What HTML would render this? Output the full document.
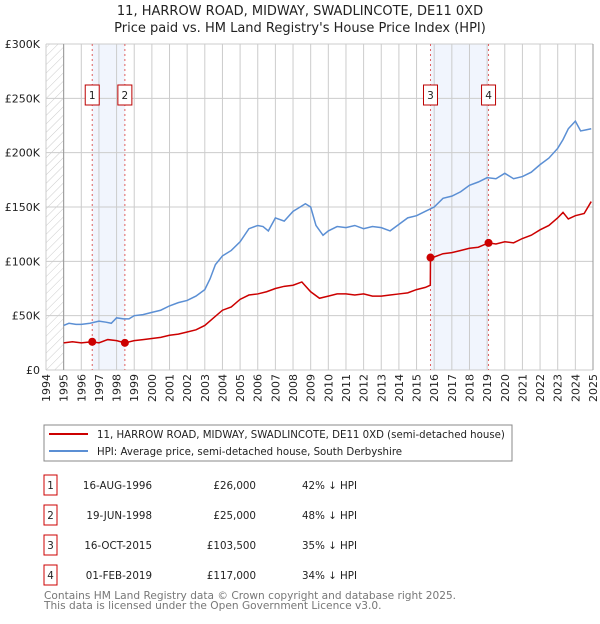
<!DOCTYPE html>
<html><head><meta charset="utf-8"><style>
body{margin:0;background:#fff;font-family:"DejaVu Sans","Liberation Sans",sans-serif;}
svg text{font-family:"DejaVu Sans","Liberation Sans",sans-serif;}
</style></head><body>
<svg id="c" width="600" height="620" xmlns="http://www.w3.org/2000/svg">
<defs><pattern id="hatch" width="6" height="6" patternUnits="userSpaceOnUse" patternTransform="rotate(45)"><line x1="0" y1="0" x2="0" y2="6" stroke="#ccc" stroke-width="1"/></pattern></defs>
<text x="300" y="15" text-anchor="middle" font-size="13" fill="#222">11, HARROW ROAD, MIDWAY, SWADLINCOTE, DE11 0XD</text>
<text x="300" y="32" text-anchor="middle" font-size="13" fill="#222">Price paid vs. HM Land Registry's House Price Index (HPI)</text>
<g id="plot"></g>
<rect x="44" y="425" width="468" height="36" fill="#fff" stroke="#888"/>
<line x1="49" y1="434" x2="88" y2="434" stroke="#cc0000" stroke-width="2"/>
<text x="97" y="438" font-size="10.2" fill="#222">11, HARROW ROAD, MIDWAY, SWADLINCOTE, DE11 0XD (semi-detached house)</text>
<line x1="49" y1="451" x2="88" y2="451" stroke="#5b8fd4" stroke-width="2"/>
<text x="97" y="455" font-size="10.2" fill="#222">HPI: Average price, semi-detached house, South Derbyshire</text>
<g id="tbl" font-size="10.3" fill="#222"></g>
<text x="44" y="599" font-size="10.6" fill="#777">Contains HM Land Registry data © Crown copyright and database right 2025.</text>
<text x="44" y="609" font-size="10.6" fill="#777">This data is licensed under the Open Government Licence v3.0.</text>
</svg>
<script>
const yTicks=[0,50,100,150,200,250,300];
const yLabels=["£0","£50K","£100K","£150K","£200K","£250K","£300K"];
const xYears=[1994,1995,1996,1997,1998,1999,2000,2001,2002,2003,2004,2005,2006,2007,2008,2009,2010,2011,2012,2013,2014,2015,2016,2017,2018,2019,2020,2021,2022,2023,2024,2025];
const hpiT=[1995,1995.3,1995.7,1996,1996.5,1997,1997.4,1997.7,1998,1998.4,1998.7,1999,1999.5,2000,2000.5,2001,2001.5,2002,2002.5,2003,2003.3,2003.6,2004,2004.5,2005,2005.5,2006,2006.3,2006.6,2007,2007.5,2008,2008.3,2008.7,2009,2009.3,2009.7,2010,2010.5,2011,2011.5,2012,2012.5,2013,2013.5,2014,2014.5,2015,2015.5,2016,2016.5,2017,2017.5,2018,2018.5,2019,2019.5,2020,2020.5,2021,2021.5,2022,2022.5,2023,2023.3,2023.6,2024,2024.3,2024.6,2024.9];
const hpiV=[41,43,42,42,43,45,44,43,48,47,47,50,51,53,55,59,62,64,68,74,84,97,105,110,118,130,133,132,128,140,137,146,149,153,150,133,124,128,132,131,133,130,132,131,128,134,140,142,146,150,158,160,164,170,173,177,176,181,176,178,182,189,195,204,212,222,229,220,221,222,223,240];
const ppT=[1995,1995.5,1996,1996.62,1997,1997.5,1998,1998.47,1999,1999.5,2000,2000.5,2001,2001.5,2002,2002.5,2003,2003.5,2004,2004.5,2005,2005.5,2006,2006.5,2007,2007.5,2008,2008.5,2009,2009.5,2010,2010.5,2011,2011.5,2012,2012.5,2013,2013.5,2014,2014.5,2015,2015.5,2015.78,2015.79,2016,2016.5,2017,2017.5,2018,2018.5,2019.08,2019.5,2020,2020.5,2021,2021.5,2022,2022.5,2023,2023.3,2023.6,2024,2024.5,2024.9];
const ppV=[25,26,25,26,25,28,27,25,27,28,29,30,32,33,35,37,41,48,55,58,65,69,70,72,75,77,78,81,72,66,68,70,70,69,70,68,68,69,70,71,74,76,78,103.5,104,107,108,110,112,113,117,116,118,117,121,124,129,133,140,145,139,142,144,155];
const saleT=[1996.62,1998.47,2015.79,2019.08];
const saleV=[26,25,103.5,117];
const saleLabels=["1","2","3","4"];
const dates=["16-AUG-1996","19-JUN-1998","16-OCT-2015","01-FEB-2019"];
const prices=["£26,000","£25,000","£103,500","£117,000"];
const pcts=["42% ↓ HPI","48% ↓ HPI","35% ↓ HPI","34% ↓ HPI"];
const X0=46,X1=593,Y0=370,Y1=44;
const sx=t=>X0+(t-1994)/31*(X1-X0);
const sy=v=>Y0-(v/300)*(Y0-Y1);
const NS="http://www.w3.org/2000/svg";
const g=document.getElementById('plot');
function mk(tag,attrs,parent){const e=document.createElementNS(NS,tag);for(const k in attrs)e.setAttribute(k,attrs[k]);(parent||g).appendChild(e);return e;}
let e;
e=mk('rect',{x:X0,y:Y1,width:sx(1995)-X0,height:Y0-Y1,fill:'url(#hatch)'});


[[0,1],[2,3]].forEach(p=>{e=mk('rect',{x:sx(saleT[p[0]]),y:Y1,width:sx(saleT[p[1]])-sx(saleT[p[0]]),height:Y0-Y1,fill:'#f1f5fd'});

});
xYears.forEach(yr=>{e=mk('line',{x1:sx(yr),x2:sx(yr),y1:Y1,y2:Y0,stroke:'#ccc','stroke-width':1});


e=mk('text',{x:0,y:0,transform:`translate(${sx(yr)+4},${Y0+4}) rotate(-90)`,'text-anchor':'end','font-size':11,fill:'#222'});
e.textContent=yr;

});
yTicks.forEach((v,i)=>{e=mk('line',{x1:X0,x2:X1,y1:sy(v),y2:sy(v),stroke:'#ccc','stroke-width':1});


e=mk('text',{x:40,y:sy(v)+4,'text-anchor':'end','font-size':11,fill:'#222'});
e.textContent=yLabels[i];

});
e=mk('line',{x1:sx(1995),x2:sx(1995),y1:Y1,y2:Y0,stroke:'#999'});


e=mk('line',{x1:X1,x2:X1,y1:Y1,y2:Y0,stroke:'#999'});


saleT.forEach(t=>{e=mk('line',{x1:sx(t),x2:sx(t),y1:Y1,y2:Y0,stroke:'#e06060','stroke-dasharray':'2,3'});

});
e=mk('polyline',{points:hpiT.map((t,i)=>sx(t)+','+sy(hpiV[i])).join(' '),fill:'none',stroke:'#5b8fd4','stroke-width':1.5});


e=mk('polyline',{points:ppT.map((t,i)=>sx(t)+','+sy(ppV[i])).join(' '),fill:'none',stroke:'#cc0000','stroke-width':1.5});


saleT.forEach((t,i)=>{e=mk('circle',{cx:sx(t),cy:sy(saleV[i]),r:4,fill:'#cc0000'});


e=mk('rect',{x:sx(t)-7,y:85,width:14,height:20,fill:'#fff',stroke:'#bb0000'});


e=mk('text',{x:sx(t),y:99,'text-anchor':'middle','font-size':10.5,fill:'#222'});
e.textContent=saleLabels[i];

});
const tb=document.getElementById('tbl');
saleLabels.forEach((l,i)=>{const cy=485+i*30;
e=mk('rect',{x:44,y:cy-10,width:13,height:20,fill:'#fff',stroke:'#cc0000'},tb);


e=mk('text',{x:50.5,y:cy+4,'text-anchor':'middle'},tb);e.textContent=l;


e=mk('text',{x:152,y:cy+4,'text-anchor':'end'},tb);e.textContent=dates[i];


e=mk('text',{x:256,y:cy+4,'text-anchor':'end'},tb);e.textContent=prices[i];


e=mk('text',{x:302,y:cy+4},tb);e.textContent=pcts[i];

});
</script>
</body></html>
